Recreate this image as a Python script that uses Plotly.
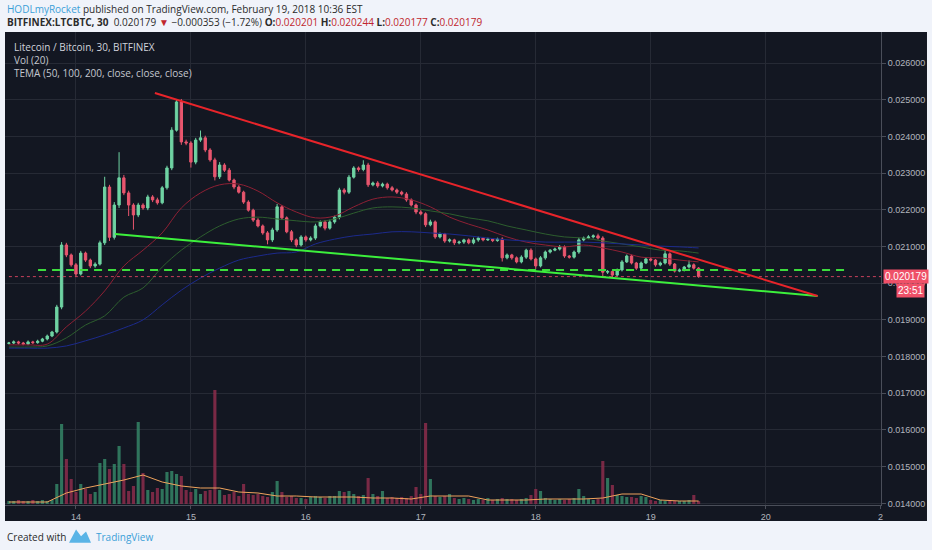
import pandas as pd
import plotly.graph_objects as go

# LTC/BTC hourly candles, prices in millionths of BTC (1e-6)
candle_start = '2018-02-13 10:00'
first_open = 18360
close_u = [
    18370, 18400, 18370, 18340, 18400, 18380, 18420, 18480, 18560, 18670,
    19350, 21040, 20770, 20500, 20250, 20820, 20630, 20470, 20520, 21100,
    22620, 21250, 22130, 22870, 22460, 22130, 21860, 22130, 22050, 22350,
    22270, 22190, 22600, 23140, 24170, 24940, 23850, 23820, 23300, 23900,
    23960, 23630, 23360, 22900, 23220, 23080, 22810, 22620, 22480, 22210,
    21990, 21720, 21560, 21370, 21180, 21450, 22080, 21780, 21400, 21180,
    21040, 21260, 21180, 21230, 21560, 21670, 21500, 21670, 21800, 22540,
    22480, 22890, 23140, 23100, 23220, 22680, 22730, 22650, 22700, 22600,
    22540, 22480, 22430, 22270, 22130, 21940, 21890, 21590, 21670, 21260,
    21340, 21150, 21180, 21100, 21120, 21180, 21100, 21180, 21230, 21180,
    21200, 21160, 21200, 20690, 20770, 20690, 20580, 20710, 20900, 20660,
    20470, 20690, 20850, 20900, 20930, 20990, 20740, 20710, 20850, 21180,
    21230, 21260, 21290, 21230, 20300, 20320, 20220, 20360, 20580, 20740,
    20550, 20410, 20550, 20660, 20630, 20500, 20550, 20800, 20520, 20330,
    20360, 20440, 20500, 20410, 20179,
]
wick_up_u = [
    30, 40, 30, 30, 40, 30, 40, 30, 40, 30,
    60, 80, 60, 40, 50, 60, 40, 40, 50, 60,
    280, 60, 80, 700, 80, 60, 50, 60, 50, 60,
    50, 60, 50, 60, 80, 60, 80, 60, 50, 60,
    200, 60, 50, 60, 80, 50, 60, 40, 50, 40,
    50, 40, 50, 40, 50, 60, 80, 50, 40, 50,
    40, 50, 40, 50, 60, 40, 50, 60, 40, 60,
    50, 60, 50, 40, 130, 60, 40, 50, 40, 40,
    50, 40, 40, 50, 40, 40, 50, 40, 60, 40,
    40, 30, 40, 30, 40, 30, 40, 60, 40, 30,
    40, 30, 40, 50, 40, 30, 40, 50, 40, 50,
    40, 50, 40, 30, 40, 50, 40, 30, 40, 60,
    40, 50, 40, 60, 50, 40, 30, 40, 50, 40,
    40, 30, 40, 50, 40, 30, 40, 100, 40, 30,
    40, 30, 120, 40, 30,
]
wick_dn_u = [
    30, 30, 40, 30, 30, 40, 30, 30, 40, 30,
    40, 60, 60, 50, 80, 40, 50, 60, 50, 40,
    60, 100, 60, 80, 60, 300, 400, 60, 50, 60,
    60, 50, 40, 50, 60, 40, 80, 60, 150, 60,
    50, 60, 50, 100, 60, 50, 40, 60, 40, 50,
    40, 50, 40, 50, 120, 60, 50, 60, 40, 60,
    60, 40, 50, 40, 50, 40, 60, 40, 50, 60,
    60, 50, 40, 60, 50, 60, 40, 50, 40, 50,
    40, 50, 40, 50, 40, 60, 40, 60, 40, 50,
    40, 50, 40, 60, 40, 50, 40, 40, 50, 40,
    30, 40, 30, 100, 40, 50, 40, 40, 50, 40,
    80, 40, 50, 40, 30, 40, 50, 40, 40, 50,
    40, 30, 40, 40, 120, 50, 60, 40, 40, 30,
    40, 50, 40, 30, 40, 50, 40, 40, 50, 40,
    30, 40, 40, 40, 30,
]
volume = [
    150, 150, 200, 150, 150, 200, 150, 200, 150, 200,
    1000, 4000, 2250, 1250, 600, 1000, 750, 500, 600, 2050,
    2250, 1750, 2000, 2900, 2000, 650, 900, 4100, 1550, 700,
    600, 800, 750, 1600, 1650, 1500, 1400, 700, 600, 750,
    500, 650, 700, 5700, 700, 450, 500, 600, 400, 1000,
    500, 450, 500, 400, 350, 600, 1150, 600, 350, 400,
    300, 300, 250, 350, 400, 350, 300, 400, 400, 650,
    600, 650, 500, 400, 450, 1300, 500, 400, 650, 300,
    350, 300, 350, 300, 400, 850, 500, 4050, 1250, 400,
    350, 400, 500, 300, 250, 300, 250, 200, 250, 200,
    300, 200, 250, 300, 250, 250, 200, 250, 300, 450,
    750, 650, 300, 250, 200, 250, 200, 250, 300, 750,
    400, 250, 200, 250, 2150, 1300, 950, 450, 400, 350,
    350, 300, 400, 350, 200, 150, 200, 150, 200, 150,
    150, 150, 200, 450, 150,
]

# indicator lines sampled every 4 hours
ind_start = '2018-02-13 10:00'
tema50_u = [
    18320, 18320, 18340, 18810, 19240, 19790, 20470, 20900, 21370, 22050,
    22460, 22680, 22700, 22510, 22190, 21940, 21780, 21830, 22080, 22290,
    22350, 22270, 22080, 21800, 21610, 21450, 21260, 21120, 21040, 20990,
    21040, 20960, 20850, 20710, 20690, 20630, 20580,
]
tema100_u = [
    18260, 18260, 18290, 18510, 18860, 19110, 19620, 19870, 20440, 20900,
    21260, 21560, 21750, 21800, 21750, 21700, 21670, 21750, 21910, 22050,
    22080, 22050, 21970, 21890, 21780, 21700, 21560, 21450, 21340, 21260,
    21230, 21150, 21070, 20990, 20900, 20880, 20820,
]
tema200_u = [
    18230, 18230, 18230, 18290, 18430, 18590, 18780, 19000, 19410, 19810,
    20140, 20410, 20630, 20740, 20820, 20850, 21070, 21200, 21290, 21340,
    21400, 21400, 21370, 21340, 21290, 21230, 21180, 21150, 21120, 21120,
    21120, 21100, 21070, 21040, 21010, 20990, 20960,
]
vol_ma = [
    100, 100, 100, 550, 800, 1000, 1200, 1450, 1100, 900,
    800, 800, 600, 550, 400, 400, 350, 350, 350, 300,
    300, 250, 400, 400, 400, 200, 200, 200, 250, 250,
    250, 300, 500, 500, 200, 150, 150,
]

# hand-drawn lines
resist_x = ['2018-02-14 16:29', '2018-02-20 10:51']
resist_y = [0.025183, 0.019651]
support_x = ['2018-02-14 08:08', '2018-02-20 10:51']
support_y = [0.021341, 0.019651]
level_x = ['2018-02-13 16:05', '2018-02-20 16:29']
level_y = [0.020360, 0.020360]

day_ticks = ['2018-02-14', '2018-02-15', '2018-02-16', '2018-02-17',
             '2018-02-18', '2018-02-19', '2018-02-20', '2018-02-21']
day_labels = ['14', '15', '16', '17', '18', '19', '20', '2']

UP = '#6fd3a3'
DOWN = '#e8566e'
BG = '#131722'
GRID = '#262a35'
TXT = '#b2b5be'
PAGE = '#f0f3fa'

times = pd.date_range(candle_start, periods=len(close_u), freq='h')
open_u = [first_open] + close_u[:-1]
o = [v / 1e6 for v in open_u]
c = [v / 1e6 for v in close_u]
h = [(max(a, b) + w) / 1e6 for a, b, w in zip(open_u, close_u, wick_up_u)]
lo = [(min(a, b) - w) / 1e6 for a, b, w in zip(open_u, close_u, wick_dn_u)]
vol_colors = ['rgba(55,140,108,0.8)' if b >= a else 'rgba(140,45,75,0.85)'
              for a, b in zip(open_u, close_u)]
ind_times = pd.date_range(ind_start, periods=len(tema50_u), freq='4h')

fig = go.Figure()
fig.add_trace(go.Bar(x=times, y=volume, marker=dict(color=vol_colors, line=dict(width=0)),
                     yaxis='y2', hoverinfo='skip'))
fig.add_trace(go.Scatter(x=ind_times, y=vol_ma, mode='lines', yaxis='y2',
                         line=dict(color='#f0a35c', width=1), hoverinfo='skip'))
for vals, col in [(tema50_u, '#8e2034'), (tema100_u, '#2d5e2e'), (tema200_u, '#1c2a8c')]:
    fig.add_trace(go.Scatter(x=ind_times, y=[v / 1e6 for v in vals], mode='lines',
                             line=dict(color=col, width=1, shape='spline'), hoverinfo='skip'))
fig.add_trace(go.Candlestick(
    x=times, open=o, high=h, low=lo, close=c,
    increasing=dict(line=dict(color=UP, width=1), fillcolor=UP),
    decreasing=dict(line=dict(color=DOWN, width=1), fillcolor=DOWN),
    whiskerwidth=0, hoverinfo='skip',
))
fig.add_trace(go.Scatter(x=[times[0], '2018-02-21 00:05'], y=[c[-1], c[-1]], mode='lines',
                         line=dict(color='#c8405c', width=1, dash='dot'), hoverinfo='skip'))
fig.add_trace(go.Scatter(x=level_x, y=level_y, mode='lines',
                         line=dict(color='#3ddc3d', width=2, dash='8px,6px'), hoverinfo='skip'))
fig.add_trace(go.Scatter(x=support_x, y=support_y, mode='lines',
                         line=dict(color='#3cf03c', width=2), hoverinfo='skip'))
fig.add_trace(go.Scatter(x=resist_x, y=resist_y, mode='lines',
                         line=dict(color='#e8242a', width=2), hoverinfo='skip'))

hdr = dict(family='Open Sans', size=10, color='#2b2b2b')
red = '#c0262d'
annotations = [
    dict(x=0, y=1.0486, xref='paper', yref='paper', xanchor='left', yanchor='middle',
         showarrow=False, font=hdr,
         text='<span style="color:#3ca0d8">HODLmyRocket</span> published on TradingView.com, '
              'February 19, 2018 10:36 EST'),
    dict(x=0, y=1.0211, xref='paper', yref='paper', xanchor='left', yanchor='middle',
         showarrow=False, font=hdr,
         text='<b>BITFINEX:LTCBTC, 30</b>  0.020179 <span style="color:%s">▼</span> '
              '−0.000353 (−1.72%%) <b>O:</b><span style="color:%s">0.020201</span> '
              '<b>H:</b><span style="color:%s">0.020244</span> '
              '<b>L:</b><span style="color:%s">0.020177</span> '
              '<b>C:</b><span style="color:%s">0.020179</span>' % (red, red, red, red, red)),
    dict(x=0.008, y=0.968, xref='paper', yref='paper', xanchor='left', yanchor='middle',
         showarrow=False, font=dict(family='Open Sans', size=10, color='#d1d4dc'),
         text='Litecoin / Bitcoin, 30, BITFINEX'),
    dict(x=0.008, y=0.941, xref='paper', yref='paper', xanchor='left', yanchor='middle',
         showarrow=False, font=dict(family='Open Sans', size=10, color='#c4c7cf'),
         text='Vol (20)'),
    dict(x=0.008, y=0.913, xref='paper', yref='paper', xanchor='left', yanchor='middle',
         showarrow=False, font=dict(family='Open Sans', size=10, color='#c4c7cf'),
         text='TEMA (50, 100, 200, close, close, close)'),
    dict(x=1, y=c[-1], xref='paper', yref='y', xanchor='left', yanchor='middle',
         xshift=2, showarrow=False, bgcolor='#ef5068', borderpad=1,
         font=dict(family='Liberation Sans', size=10, color='white'), text='0.020179'),
    dict(x=1.0502, y=c[-1], xref='paper', yref='y', xanchor='right', yanchor='middle',
         yshift=-14, showarrow=False, bgcolor='#ef5068', borderpad=1,
         font=dict(family='Liberation Sans', size=10, color='white'), text='23:51'),
    dict(x=0, y=-0.068, xref='paper', yref='paper', xanchor='left', yanchor='middle',
         showarrow=False, font=dict(family='Open Sans', size=10, color='#2b2b2b'),
         text='Created with'),
    dict(x=0.1016, y=-0.068, xref='paper', yref='paper', xanchor='left', yanchor='middle',
         showarrow=False, font=dict(family='Open Sans', size=10, color='#3ca0d8'),
         text='TradingView'),
]

shapes = [
    # dark chart panel behind the plot and price scale
    dict(type='rect', xref='paper', yref='paper', x0=0, x1=1.0525, y0=-0.0338, y1=1,
         fillcolor=BG, line=dict(width=0), layer='below'),
    # small logo
    dict(type='path', xref='paper', yref='paper', layer='above',
         path='M 0.0731 -0.080 L 0.0811 -0.052 L 0.0868 -0.066 L 0.0925 -0.056 '
              'L 0.0982 -0.080 Z',
         fillcolor='#5ab4e6', line=dict(width=0)),
]

fig.update_layout(
    width=932, height=550,
    margin=dict(l=5, r=51, t=32, b=45),
    paper_bgcolor=PAGE, plot_bgcolor=BG,
    showlegend=False, bargap=0.35,
    font=dict(family='Liberation Sans', size=9, color=TXT),
    xaxis=dict(
        type='date', range=['2018-02-13 09:11', '2018-02-21 00:05'],
        tickmode='array', tickvals=day_ticks, ticktext=day_labels,
        showgrid=True, gridcolor=GRID, gridwidth=1, zeroline=False,
        showline=True, linecolor='#4a4e59', ticks='outside', ticklen=3,
        tickcolor='#4a4e59', tickfont=dict(size=9, color=TXT),
        rangeslider=dict(visible=False),
    ),
    yaxis=dict(
        side='right', range=[0.0139555, 0.026845], tick0=0.014, dtick=0.001,
        tickformat='.6f', showgrid=True, gridcolor=GRID, zeroline=False,
        showline=True, linecolor='#4a4e59', ticks='outside', ticklen=4,
        tickcolor='#4a4e59', tickfont=dict(size=9, color=TXT),
    ),
    yaxis2=dict(overlaying='y', range=[-50, 23600], visible=False),
    annotations=annotations,
    shapes=shapes,
)

# drop the page's default body margin so the figure sits at the window's corner
fig.write_html("out.html", config={'displayModeBar': False},
               post_script="document.body.style.margin='0';"
                           "document.body.style.background='%s';" % PAGE)
